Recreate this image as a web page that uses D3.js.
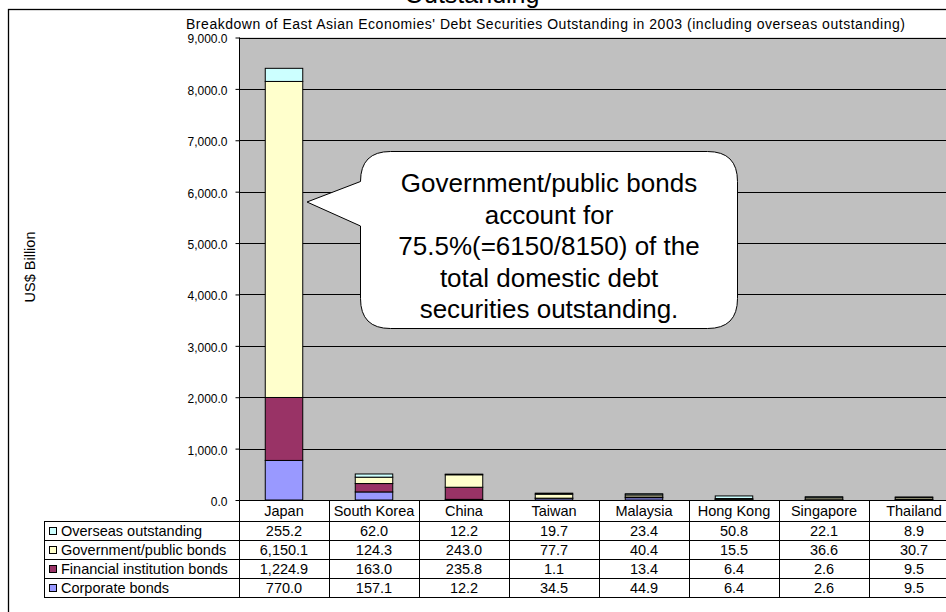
<!DOCTYPE html>
<html>
<head>
<meta charset="utf-8">
<script src="https://cdn.jsdelivr.net/npm/d3@7/dist/d3.min.js"></script>
<style>
  body { margin: 0; background: #fff; }
  svg { display: block; font-family: "Liberation Sans", Arial, sans-serif; }
</style>
</head>
<body>
<svg id="chart" width="946" height="612"></svg>
<script>
// Debt securities outstanding in 2003, US$ billion
const categories = ["Japan", "South Korea", "China", "Taiwan", "Malaysia", "Hong Kong", "Singapore", "Thailand"];
const corporateBonds   = [770.0, 157.1, 12.2, 34.5, 44.9, 6.4, 2.6, 9.5];
const financialBonds   = [1224.9, 163.0, 235.8, 1.1, 13.4, 6.4, 2.6, 9.5];
const governmentBonds  = [6150.1, 124.3, 243.0, 77.7, 40.4, 15.5, 36.6, 30.7];
const overseasOutstanding = [255.2, 62.0, 12.2, 19.7, 23.4, 50.8, 22.1, 8.9];

// stacking order, bottom to top
const seriesKeys   = ["corporate", "financial", "government", "overseas"];
const seriesLabels = ["Corporate bonds", "Financial institution bonds", "Government/public bonds", "Overseas outstanding"];
const seriesValues = [corporateBonds, financialBonds, governmentBonds, overseasOutstanding];
const seriesColors = ["#9999FF", "#993366", "#FFFFCC", "#CCFFFF"];

const yTickValues = [0, 1000, 2000, 3000, 4000, 5000, 6000, 7000, 8000, 9000];

const chartTitle = "Outstanding";
const subTitle = "Breakdown of East Asian Economies' Debt Securities Outstanding in 2003 (including overseas outstanding)";
const yAxisTitle = "US$ Billion";
const calloutLines = ["Government/public bonds", "account for", "75.5%(=6150/8150) of the", "total domestic debt", "securities outstanding."];

const rows = categories.map((c, i) => {
  const r = { category: c };
  seriesKeys.forEach((k, j) => r[k] = seriesValues[j][i]);
  return r;
});

const svg = d3.select("#chart");

// layout
const plot = { left: 239, right: 959, top: 37.5, bottom: 500 };
const rowH = 19, headerH = 21, legendLeft = 44;
const tableFont = 14.5;

const xCell = d3.scaleBand().domain(categories).range([plot.left, plot.right]).padding(0);
const xBar = d3.scaleBand().domain(categories).range([plot.left, plot.right])
  .paddingInner(1.4 / 2.4).paddingOuter(0.7 / 2.4);
const y = d3.scaleLinear().domain([0, 9000]).range([plot.bottom, plot.top]);

// outer chart frame
svg.append("rect")
  .attr("x", 8.5).attr("y", 9.5).attr("width", 1200).attr("height", 800)
  .attr("fill", "#fff").attr("stroke", "#000").attr("stroke-width", 1.3);

// main title (upper part runs off the top)
svg.append("text")
  .attr("x", 472).attr("y", 3)
  .attr("text-anchor", "middle").attr("font-size", 25)
  .text(chartTitle);

svg.append("text")
  .attr("x", 186).attr("y", 29)
  .attr("font-size", 14)
  .attr("textLength", 719).attr("lengthAdjust", "spacing")
  .text(subTitle);

// plot area
svg.append("rect")
  .attr("x", plot.left).attr("y", plot.top)
  .attr("width", plot.right - plot.left).attr("height", plot.bottom - plot.top)
  .attr("fill", "#C0C0C0");

// gridlines
svg.append("g").selectAll("line").data(yTickValues.filter(d => d > 0)).join("line")
  .attr("x1", plot.left).attr("x2", plot.right)
  .attr("y1", d => Math.round(y(d)) + 0.5).attr("y2", d => Math.round(y(d)) + 0.5)
  .attr("stroke", "#000").attr("stroke-width", 1);

// stacked bars
const stacked = d3.stack().keys(seriesKeys)(rows);
svg.append("g").selectAll("g").data(stacked).join("g")
  .attr("fill", (d, i) => seriesColors[i])
  .selectAll("rect").data(d => d).join("rect")
  .attr("x", d => xBar(d.data.category))
  .attr("width", xBar.bandwidth())
  .attr("y", d => y(d[1]))
  .attr("height", d => y(d[0]) - y(d[1]))
  .attr("stroke", "#000").attr("stroke-width", 1);

// y axis
const yAxis = d3.axisLeft(y).tickValues(yTickValues)
  .tickFormat(d3.format(",.1f")).tickSize(4).tickPadding(8);
const gy = svg.append("g").attr("transform", `translate(${plot.left + 0.5},0)`).call(yAxis);
gy.select(".domain").attr("stroke", "#000").attr("d", `M0,${plot.top}V${plot.bottom}`);
gy.selectAll(".tick line").attr("stroke", "#000");
gy.selectAll(".tick text").attr("font-size", 12).attr("font-family", "Liberation Sans, Arial, sans-serif")
  .attr("fill", "#000").attr("dy", "0.45em");

svg.append("text")
  .attr("transform", "translate(35,267) rotate(-90)")
  .attr("text-anchor", "middle").attr("font-size", 14.5)
  .text(yAxisTitle);

// data table below the plot
const table = svg.append("g");
const tableTop = plot.bottom;
const bodyTop = tableTop + headerH;
const tableBottom = bodyTop + rowH * 4;

table.append("line").attr("x1", plot.left).attr("x2", plot.right)
  .attr("y1", tableTop + 0.5).attr("y2", tableTop + 0.5).attr("stroke", "#000");
for (let r = 0; r <= 4; r++) {
  const yy = Math.round(bodyTop + r * rowH) + 0.5;
  table.append("line").attr("x1", legendLeft).attr("x2", plot.right)
    .attr("y1", yy).attr("y2", yy).attr("stroke", "#000");
}
table.append("line").attr("x1", legendLeft + 0.5).attr("x2", legendLeft + 0.5)
  .attr("y1", bodyTop).attr("y2", tableBottom + 0.5).attr("stroke", "#000");
categories.forEach(c => {
  const xx = Math.round(xCell(c)) + 0.5;
  table.append("line").attr("x1", xx).attr("x2", xx)
    .attr("y1", tableTop).attr("y2", tableBottom + 0.5).attr("stroke", "#000");
});

// category header
table.selectAll("text.cat").data(categories).join("text").attr("class", "cat")
  .attr("x", d => xCell(d) + xCell.bandwidth() / 2)
  .attr("y", tableTop + 16)
  .attr("text-anchor", "middle").attr("font-size", tableFont)
  .text(d => d);

// rows: top to bottom is the reverse of the stacking order
const fmt = d3.format(",.1f");
const tableRows = d3.range(seriesKeys.length).reverse();
tableRows.forEach((s, r) => {
  const rowY = bodyTop + r * rowH;
  table.append("rect")
    .attr("x", 49.5).attr("y", rowY + 6.5).attr("width", 7).attr("height", 7)
    .attr("fill", seriesColors[s]).attr("stroke", "#000").attr("stroke-width", 1);
  table.append("text")
    .attr("x", 61).attr("y", rowY + 15)
    .attr("font-size", tableFont).text(seriesLabels[s]);
  categories.forEach((c, i) => {
    table.append("text")
      .attr("x", xCell(c) + xCell.bandwidth() / 2).attr("y", rowY + 15)
      .attr("text-anchor", "middle").attr("font-size", tableFont)
      .text(fmt(seriesValues[s][i]));
  });
});

// callout balloon
const box = { x0: 360.5, y0: 151.5, x1: 737.5, y1: 328.5, r: 30 };
const tip = [307, 202];
const p = d3.path();
p.moveTo(box.x0 + box.r, box.y0);
p.lineTo(box.x1 - box.r, box.y0);
p.quadraticCurveTo(box.x1, box.y0, box.x1, box.y0 + box.r);
p.lineTo(box.x1, box.y1 - box.r);
p.quadraticCurveTo(box.x1, box.y1, box.x1 - box.r, box.y1);
p.lineTo(box.x0 + box.r, box.y1);
p.quadraticCurveTo(box.x0, box.y1, box.x0, box.y1 - box.r);
p.lineTo(box.x0, 226);
p.lineTo(tip[0], tip[1]);
p.lineTo(box.x0, box.y0 + box.r);
p.quadraticCurveTo(box.x0, box.y0, box.x0 + box.r, box.y0);
p.closePath();
svg.append("path").attr("d", p.toString())
  .attr("fill", "#fff").attr("stroke", "#000").attr("stroke-width", 1);

svg.append("g").selectAll("text").data(calloutLines).join("text")
  .attr("x", (box.x0 + box.x1) / 2)
  .attr("y", (d, i) => 192 + i * 31.5)
  .attr("text-anchor", "middle").attr("font-size", 26)
  .text(d => d);
</script>
</body>
</html>
